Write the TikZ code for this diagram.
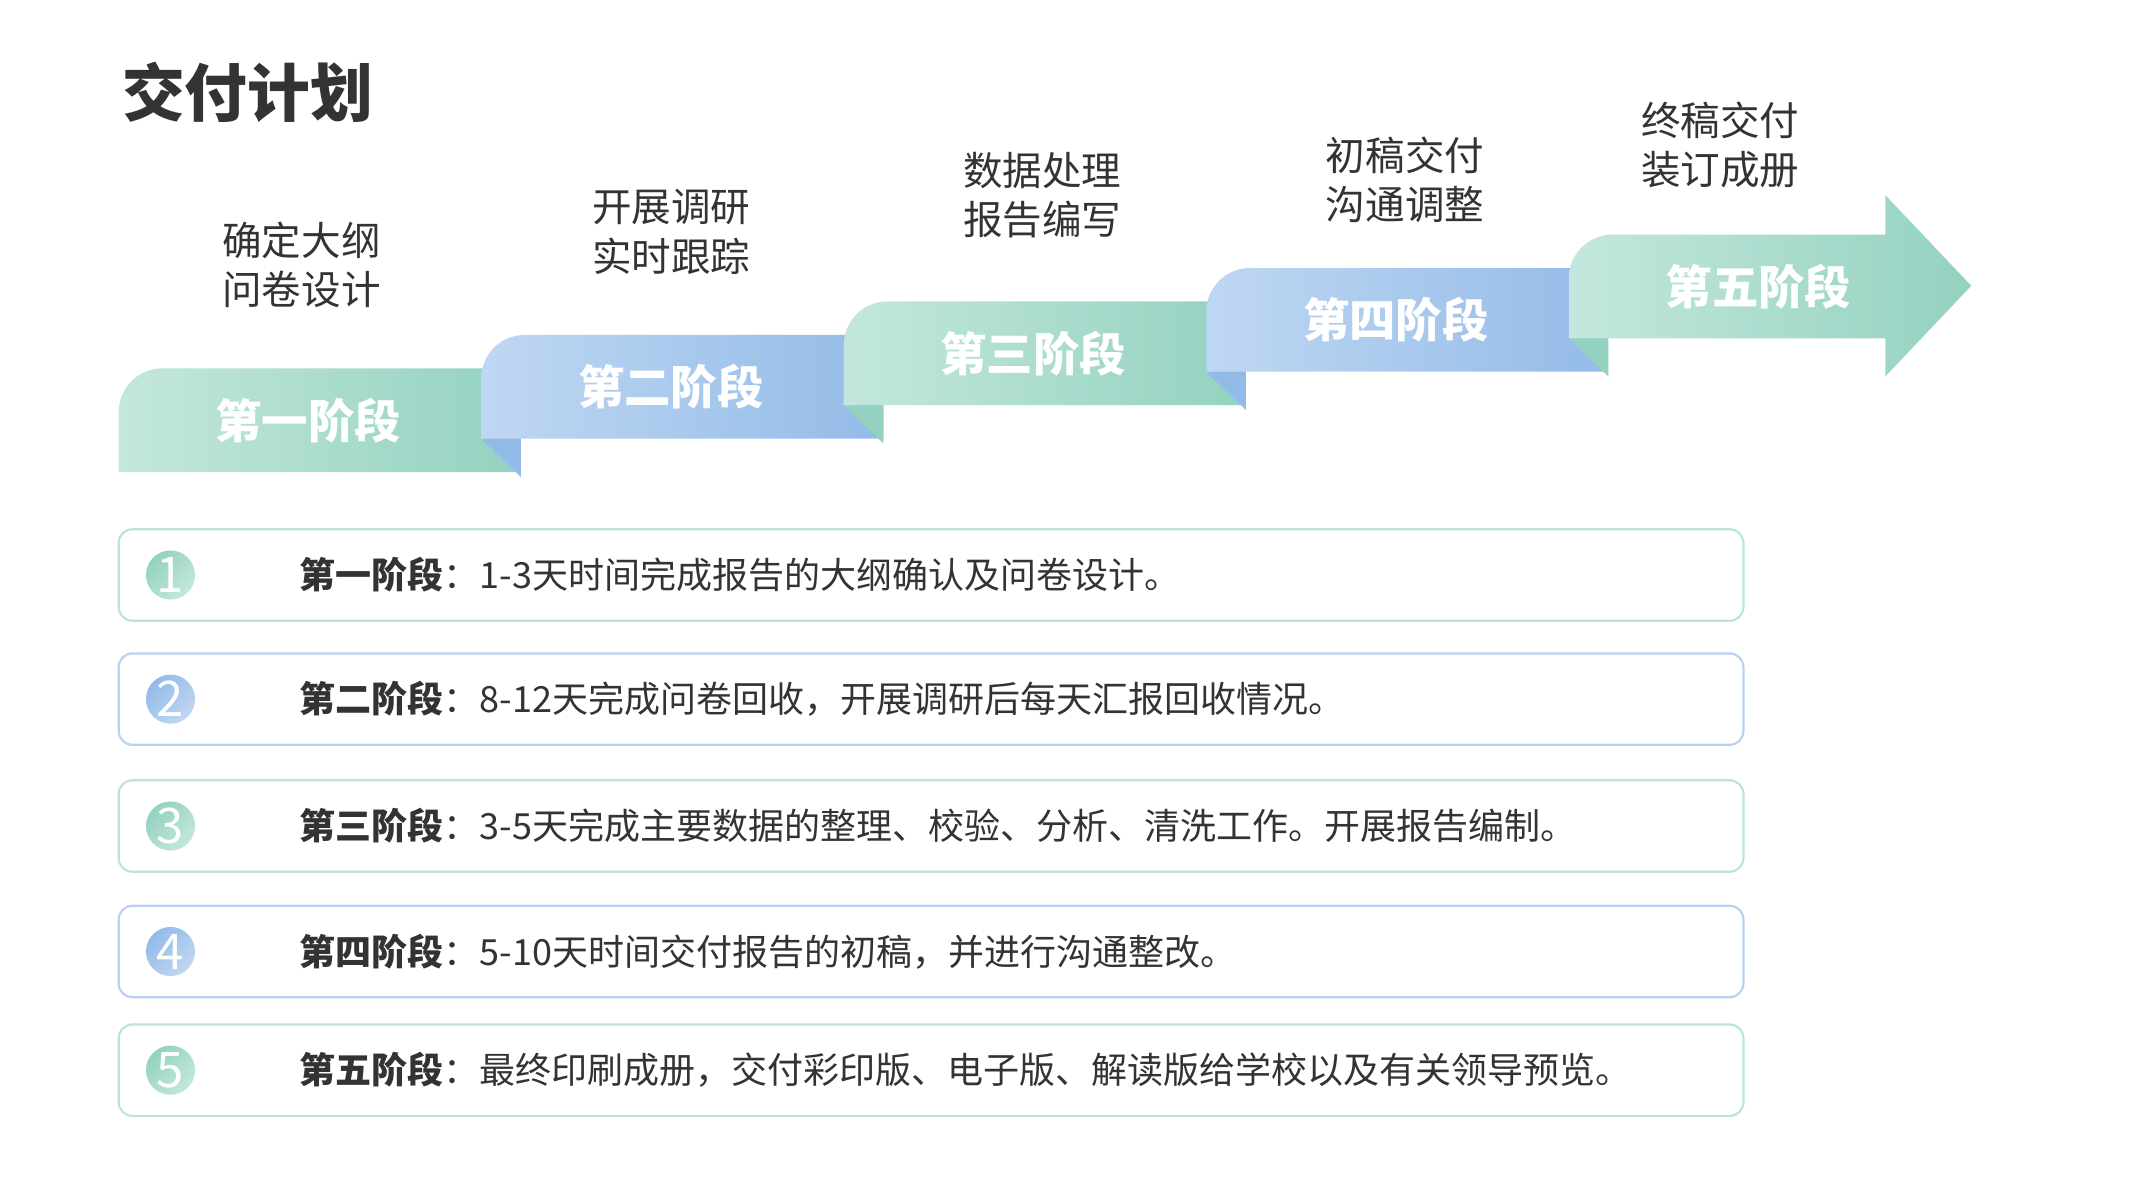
\documentclass[tikz,border=0pt]{standalone}
\usepackage{fontspec}
\setmainfont{Noto Sans CJK SC}
\usepackage{xcolor}
\usepackage{tikz}
\usetikzlibrary{calc}

\definecolor{grnL}{HTML}{C4E7DD}
\definecolor{grnD}{HTML}{93D2C0}
\definecolor{bluL}{HTML}{BFD7F2}
\definecolor{bluD}{HTML}{93BBE8}
\definecolor{grnB}{HTML}{BCE4D9}
\definecolor{bluB}{HTML}{B9D2F0}
\definecolor{txt}{HTML}{333333}

\begin{document}
\begin{tikzpicture}[x=1pt,y=-1pt,
  stagename/.style={text=white,font=\fontsize{34}{34}\selectfont\bfseries},
  topnote/.style={text=txt,align=center,font=\fontsize{29}{36}\selectfont},
  infobox/.style={draw,rounded corners=10pt,line width=1.6pt,
    minimum width=1191pt,minimum height=67pt,inner sep=0pt},
  numdot/.style={circle,inner sep=0pt,minimum size=36pt,text=white,
    font=\fontsize{36}{36}\selectfont}]
  \useasboundingbox (0,0) rectangle (1568,875);
  \pgfmathsetmacro{\H}{76}    % ribbon height
  \pgfmathsetmacro{\F}{29}    % fold width
  \pgfmathsetmacro{\R}{32}    % corner radius

  % title
  \node[anchor=west,text=txt,font=\fontsize{46}{46}\selectfont\bfseries] (title) at (86,68) {交付计划};

  % ribbons 1-4, each followed by the fold of the next one
  \foreach \i/\lc/\dc/\nc in {1/grnL/grnD/bluD,2/bluL/bluD/grnD,3/grnL/grnD/bluD,4/bluL/bluD/grnD}{
    \pgfmathsetmacro{\xa}{87+265.75*(\i-1)}
    \pgfmathsetmacro{\xn}{87+265.75*\i}
    \pgfmathsetmacro{\ya}{270-24.5*(\i-1)}
    \pgfmathsetmacro{\yn}{\ya-24.5+\H}
    \shade[left color=\lc,right color=\dc]
      (\xa,\ya+\H) -- (\xa,\ya+\R) arc[start angle=180,end angle=270,radius=\R]
      -- (\xn+\F,\ya) -- (\xn+\F,\ya+\H) -- cycle;
    \fill[\nc] (\xn,\yn) -- (\xn+\F,\yn) -- (\xn+\F,\yn+28) -- cycle;
  }

  % ribbon 5 with arrow head
  \shade[left color=grnL,right color=grnD]
    (1150,172+\H) -- (1150,172+\R) arc[start angle=180,end angle=270,radius=\R]
    -- (1382,172) -- (1382,143) -- (1445,209.5) -- (1382,276) -- (1382,172+\H) -- cycle;

  % stage names on the ribbons
  \foreach \i/\nm in {1/一,2/二,3/三,4/四,5/五}{
    \node[stagename] (stage\i) at ({87+265.75*(\i-1)+139},{270-24.5*(\i-1)+38}) {第\nm 阶段};
  }

  % notes above the ribbons
  \node[topnote] (note1) at (221,194) {确定大纲\\问卷设计};
  \node[topnote] (note2) at (492,170) {开展调研\\实时跟踪};
  \node[topnote] (note3) at (764,143) {数据处理\\报告编写};
  \node[topnote] (note4) at (1030,132) {初稿交付\\沟通调整};
  \node[topnote] (note5) at (1261,106) {终稿交付\\装订成册};

  % detail boxes
  \foreach \i/\y/\bc/\cd/\cl/\nm/\desc in {
    1/421.5/grnB/grnD/grnL/一/1-3天时间完成报告的大纲确认及问卷设计。,
    2/512.5/bluB/bluD/bluL/二/8-12天完成问卷回收，开展调研后每天汇报回收情况。,
    3/605.5/grnB/grnD/grnL/三/3-5天完成主要数据的整理、校验、分析、清洗工作。开展报告编制。,
    4/697.5/bluB/bluD/bluL/四/5-10天时间交付报告的初稿，并进行沟通整改。,
    5/784.5/grnB/grnD/grnL/五/最终印刷成册，交付彩印版、电子版、解读版给学校以及有关领导预览。}{
    \node[infobox,draw=\bc] (box\i) at (682.5,\y) {};
    \node[numdot,top color=\cd,bottom color=\cl,shading angle=45] (num\i) at (125,\y) {\i};
    \node[anchor=west,text=txt,font=\fontsize{26.4}{26.4}\selectfont] (desc\i) at (216,\y)
      {\textbf{第\nm 阶段}：\desc};
  }
\end{tikzpicture}
\end{document}
